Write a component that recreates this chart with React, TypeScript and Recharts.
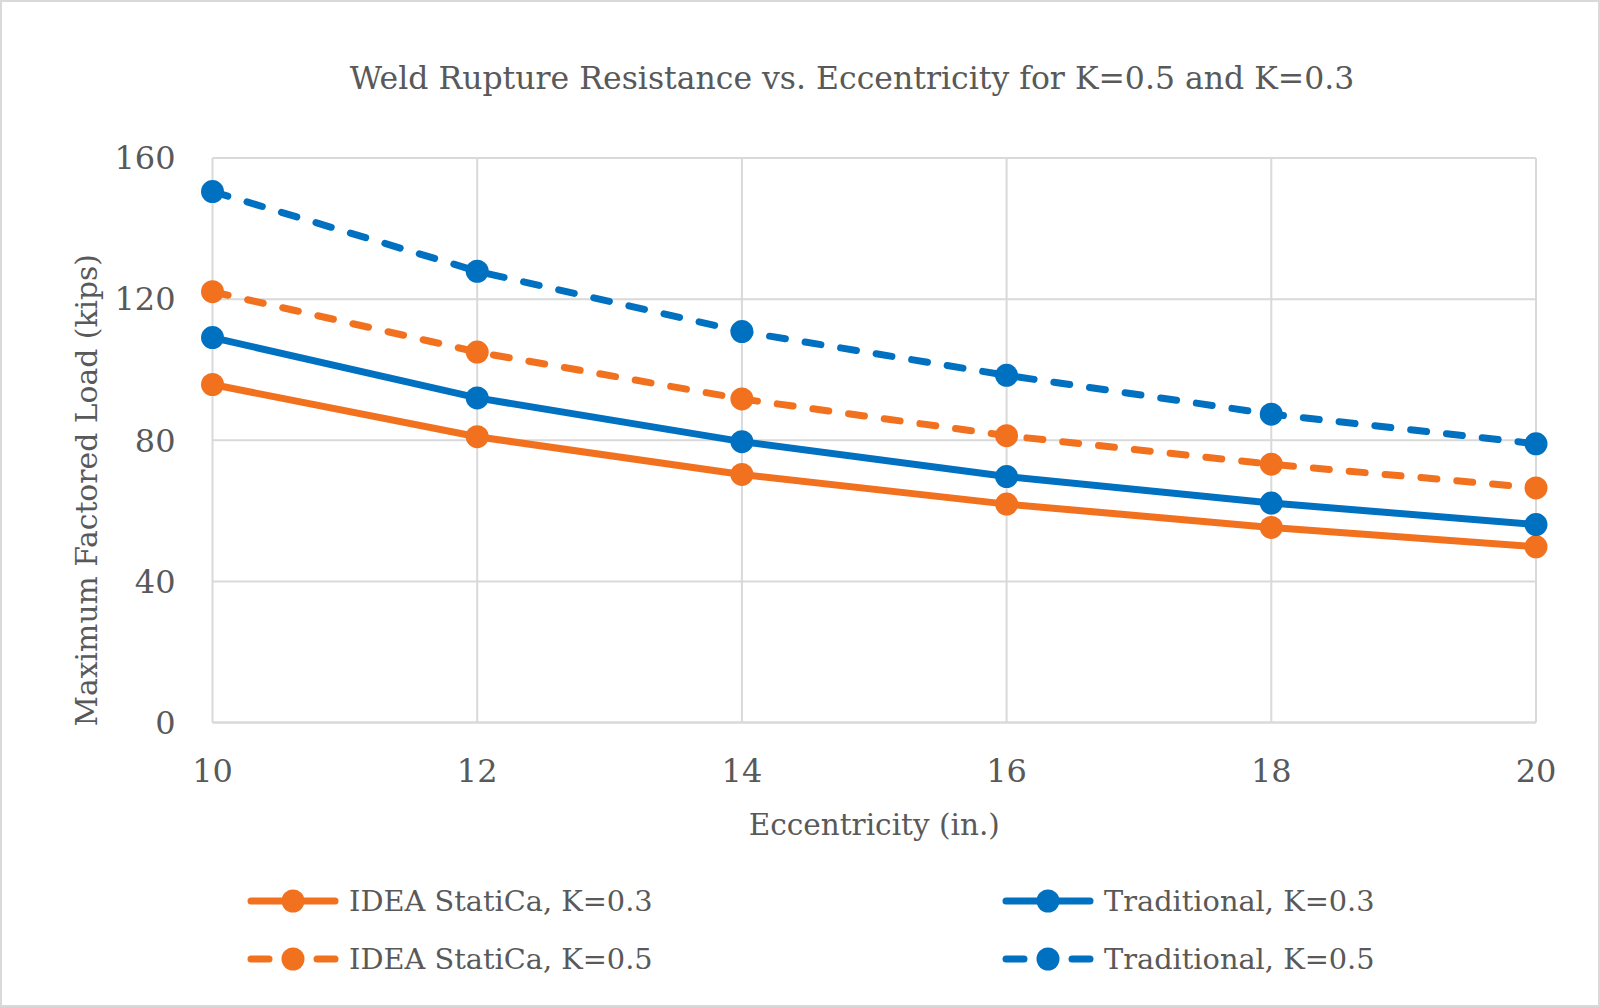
import React from 'react';
import { LineChart, Line, XAxis, YAxis, CartesianGrid, Label } from 'recharts';

const eccentricity = [10, 12, 14, 16, 18, 20];
const ideaK03 = [95.8, 81, 70.3, 61.9, 55.3, 49.8];
const ideaK05 = [122.1, 105, 91.7, 81.3, 73.2, 66.5];
const tradK03 = [109.1, 92, 79.6, 69.7, 62.2, 56.1];
const tradK05 = [150.5, 127.9, 110.8, 98.4, 87.4, 79];

const xTicks = [10, 12, 14, 16, 18, 20];
const yTicks = [0, 40, 80, 120, 160];

const ORANGE = '#F2711F';
const BLUE = '#0070C0';
const TEXT = '#595959';
const GRID = '#D9D9D9';
const FONT = '"DejaVu Serif", serif';

const data = eccentricity.map((e, i) => ({
  e,
  ideaK03: ideaK03[i],
  ideaK05: ideaK05[i],
  tradK03: tradK03[i],
  tradK05: tradK05[i],
}));

const series = [
  { key: 'ideaK03', name: 'IDEA StatiCa, K=0.3', color: ORANGE, dash: undefined },
  { key: 'tradK03', name: 'Traditional, K=0.3', color: BLUE, dash: undefined },
  { key: 'ideaK05', name: 'IDEA StatiCa, K=0.5', color: ORANGE, dash: '16 20' },
  { key: 'tradK05', name: 'Traditional, K=0.5', color: BLUE, dash: '16 20' },
];

// legend slots: [left, middle y] of each entry
const legendSlots = [
  [247, 901],
  [1002, 901],
  [247, 959],
  [1002, 959],
];

function LegendIcon({ color, dash }: { color: string; dash?: string }) {
  return (
    <svg width={92} height={30} style={{ display: 'block' }}>
      {dash ? (
        <>
          <line x1={4} y1={15} x2={22} y2={15} stroke={color} strokeWidth={7} strokeLinecap="round" />
          <line x1={70} y1={15} x2={88} y2={15} stroke={color} strokeWidth={7} strokeLinecap="round" />
        </>
      ) : (
        <line x1={4} y1={15} x2={88} y2={15} stroke={color} strokeWidth={7} strokeLinecap="round" />
      )}
      <circle cx={46} cy={15} r={11.5} fill={color} />
    </svg>
  );
}

export default function App() {
  return (
    <div
      style={{
        position: 'relative',
        width: 1600,
        height: 1007,
        boxSizing: 'border-box',
        border: `2px solid ${GRID}`,
        background: '#fff',
        fontFamily: FONT,
      }}
    >
      <style>{'body{margin:0}'}</style>
      <div
        style={{
          position: 'absolute',
          top: 58,
          left: 52,
          width: '100%',
          textAlign: 'center',
          fontSize: 31.5,
          color: TEXT,
        }}
      >
        Weld Rupture Resistance vs. Eccentricity for K=0.5 and K=0.3
      </div>
      <div style={{ position: 'absolute', left: -2, top: -2 }}>
        <LineChart width={1600} height={1007} data={data} margin={{ top: 158, right: 64, bottom: 184.5, left: 92.5 }}>
          <CartesianGrid stroke={GRID} strokeWidth={2} />
          <XAxis
            dataKey="e"
            type="number"
            domain={[10, 20]}
            ticks={xTicks}
            height={100}
            tickLine={false}
            tickSize={0}
            tickMargin={37}
            axisLine={{ stroke: GRID, strokeWidth: 2 }}
            tick={{ fill: TEXT, fontSize: 32, fontFamily: FONT }}
          >
            <Label
              content={({ viewBox }: any) => (
                <text
                  x={viewBox.x + viewBox.width / 2}
                  y={835}
                  textAnchor="middle"
                  fill={TEXT}
                  fontSize={29.5}
                  fontFamily={FONT}
                >
                  Eccentricity (in.)
                </text>
              )}
            />
          </XAxis>
          <YAxis
            type="number"
            domain={[0, 160]}
            ticks={yTicks}
            width={120}
            tickLine={false}
            tickSize={0}
            tickMargin={37}
            axisLine={false}
            tick={{ fill: TEXT, fontSize: 32, fontFamily: FONT }}
          >
            <Label
              content={({ viewBox }: any) => {
                const cy = viewBox.y + viewBox.height / 2 + 50;
                return (
                  <text
                    x={97}
                    y={cy}
                    transform={`rotate(-90 97 ${cy})`}
                    textAnchor="middle"
                    fill={TEXT}
                    fontSize={29.8}
                    fontFamily={FONT}
                  >
                    Maximum Factored Load (kips)
                  </text>
                );
              }}
            />
          </YAxis>
          {series.map((s) => (
            <Line
              key={s.key}
              dataKey={s.key}
              name={s.name}
              stroke={s.color}
              strokeWidth={7}
              strokeDasharray={s.dash}
              strokeLinecap="round"
              dot={{ r: 11.5, fill: s.color, stroke: 'none' }}
              isAnimationActive={false}
            />
          ))}
        </LineChart>
      </div>
      {series.map((s, i) => (
        <div
          key={s.key}
          style={{
            position: 'absolute',
            left: legendSlots[i][0] - 2,
            top: legendSlots[i][1] - 2 - 17,
            display: 'flex',
            alignItems: 'center',
            height: 34,
            color: TEXT,
            fontSize: 28.8,
          }}
        >
          <LegendIcon color={s.color} dash={s.dash} />
          <span style={{ marginLeft: 10 }}>{s.name}</span>
        </div>
      ))}
    </div>
  );
}
